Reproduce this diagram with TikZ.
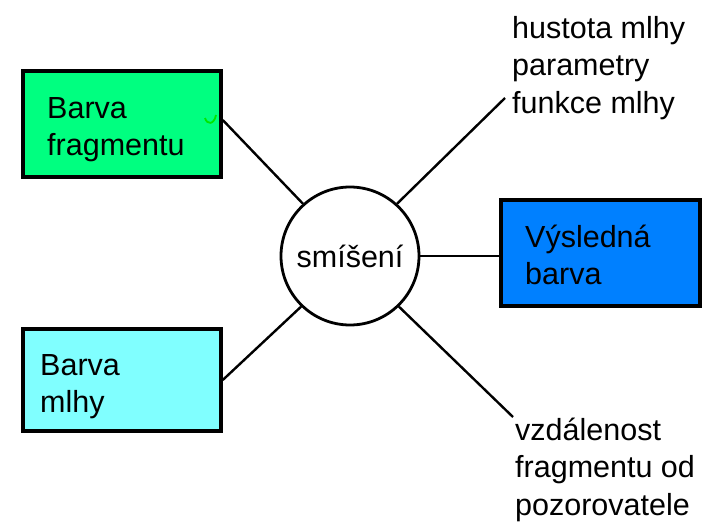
\documentclass[tikz,border=0pt]{standalone}
\usepackage{fontspec}
\setmainfont{Liberation Sans}
\definecolor{fraggreen}{RGB}{0,255,128}
\definecolor{tickgreen}{RGB}{0,230,0}
\definecolor{fogcyan}{RGB}{128,255,255}
\definecolor{resblue}{RGB}{0,128,255}
\newcommand{\txtlines}[1]{\begin{tabular}[t]{@{}l@{}}#1\end{tabular}}
\tikzset{
  colbox/.style={draw=black, line width=3.5pt, inner sep=0pt},
  mixcircle/.style={circle, draw=black, line width=2.8pt, fill=white, minimum size=138pt, inner sep=0pt},
  conn/.style={draw=black, line width=2.4pt},
  lbl/.style={inner sep=0pt, anchor=base west, font=\fontsize{30.5}{37.5}\selectfont}
}
\begin{document}
\begin{tikzpicture}[x=1pt, y=-1pt]
  \useasboundingbox[fill=white] (0,0) rectangle (706,522);

  % colour boxes
  \node[colbox, fill=fraggreen, minimum width=198pt, minimum height=106pt] (frag) at (122,124) {};
  \node[colbox, fill=fogcyan, minimum width=198pt, minimum height=102pt] (fog) at (122,380) {};
  \node[colbox, fill=resblue, minimum width=199pt, minimum height=106pt] (res) at (600.5,253) {};

  % blending circle
  \node[mixcircle, font=\fontsize{30.5}{37.5}\selectfont] (mix) at (350,256) {smíšení};

  % box texts
  \node[lbl] (fragtxt) at (47,118) {\txtlines{Barva\\fragmentu}};
  \node[lbl] (fogtxt) at (40,375) {\txtlines{Barva\\mlhy}};
  \node[lbl] (restxt) at (525,247) {\txtlines{Výsledná\\barva}};

  % free labels
  \node[lbl] (fogpar) at (512,38) {\txtlines{hustota mlhy\\parametry\\funkce mlhy}};
  \node[lbl] (dist) at (515,440) {\txtlines{vzdálenost\\fragmentu od\\pozorovatele}};
  \coordinate (fogparend) at (505,98);
  \coordinate (distend) at (513,417);

  % connectors
  \draw[conn] (frag.east) ++(0,-4) -- (mix.132);
  \draw[conn] (fog.east) -- (mix.226);
  \draw[conn] (mix.48) -- (fogparend);
  \draw[conn] (mix.east) -- (mix.east -| res.west);
  \draw[conn] (mix.314) -- (distend);

  % small green tick inside the fragment box
  \draw[tickgreen, line width=1.8pt] (205,118) .. controls (207,125) and (214,125) .. (216,115);
\end{tikzpicture}
\end{document}
